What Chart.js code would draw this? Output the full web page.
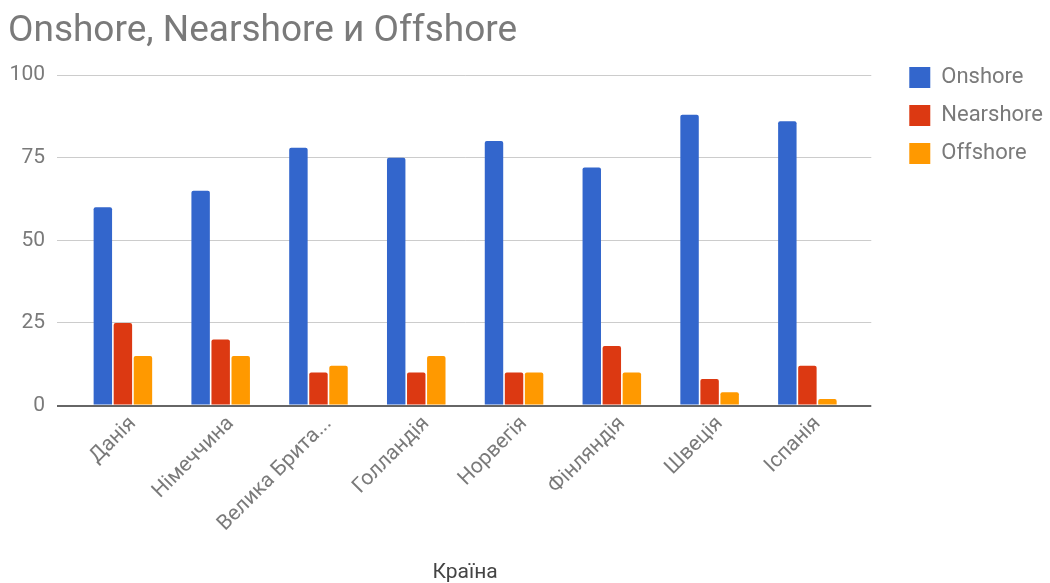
<!DOCTYPE html>
<html>
<head>
<meta charset="utf-8">
<script src="https://cdn.jsdelivr.net/npm/chart.js@4.4.0/dist/chart.umd.min.js"></script>
<style>
  html, body { margin: 0; padding: 0; background: #fff; }
  #wrap { width: 1050px; height: 583px; }
</style>
</head>
<body>
<div id="wrap"><canvas id="chart"></canvas></div>
<script>
const countries = ["Данія", "Німеччина", "Велика Британія", "Голландія", "Норвегія", "Фінляндія", "Швеція", "Іспанія"];
const onshore = [60, 65, 78, 75, 80, 72, 88, 86];
const nearshore = [25, 20, 10, 10, 10, 18, 8, 12];
const offshore = [15, 15, 12, 15, 10, 10, 4, 2];
const yTicks = [0, 25, 50, 75, 100];

const gray = "#7a7a7a";
const gridColor = ctx => (ctx.tick && ctx.tick.value === 0 ? "#666666" : "#cccccc");
const gridWidth = ctx => (ctx.tick && ctx.tick.value === 0 ? 2 : 1);

function shorten(name) {
  return name.length > 13 ? name.slice(0, 12) + "..." : name;
}

function bars(label, data, color) {
  return {
    label,
    data,
    backgroundColor: color,
    borderWidth: 0,
    borderRadius: { topLeft: 2, topRight: 2 },
    borderSkipped: "bottom",
    categoryPercentage: 0.615,
    barPercentage: 0.92
  };
}

Chart.defaults.font.family = "Roboto";

new Chart(document.getElementById("chart"), {
  type: "bar",
  data: {
    labels: countries,
    datasets: [
      bars("Onshore", onshore, "#3366cc"),
      bars("Nearshore", nearshore, "#dc3912"),
      bars("Offshore", offshore, "#ff9900")
    ]
  },
  options: {
    responsive: true,
    maintainAspectRatio: false,
    animation: false,
    layout: { padding: { left: 8, right: -3, top: 0, bottom: 0 } },
    plugins: {
      title: {
        display: true,
        text: "Onshore, Nearshore и Offshore",
        align: "start",
        color: gray,
        font: { size: 37, weight: "normal" },
        padding: { top: 10, bottom: 20.6 }
      },
      legend: {
        position: "right",
        align: "start",
        title: { display: true, text: "", font: { size: 12 }, padding: { top: 0, bottom: 36 } },
        labels: {
          boxWidth: 21,
          boxHeight: 21,
          padding: 16,
          color: gray,
          font: { size: 22 }
        }
      },
      tooltip: { enabled: false }
    },
    scales: {
      x: {
        grid: { display: false, drawTicks: false },
        border: { display: false },
        ticks: {
          autoSkip: false,
          maxRotation: 45,
          minRotation: 45,
          padding: 6,
          labelOffset: 10,
          color: gray,
          font: { size: 21 },
          callback: function (v) { return shorten(this.getLabelForValue(v)); }
        },
        title: {
          display: true,
          text: "Країна",
          color: "#444444",
          font: { size: 21, lineHeight: 1 },
          padding: { top: 0, bottom: 0 }
        },
        afterFit: s => { s.height = 177.5; }
      },
      y: {
        min: 0,
        max: 100,
        afterBuildTicks: s => { s.ticks = yTicks.map(v => ({ value: v })); },
        grid: { color: gridColor, lineWidth: gridWidth, tickLength: 17 },
        border: { display: false },
        ticks: { padding: 12, color: gray, font: { size: 21 } },
        afterFit: s => { s.width = 66; }
      },
      y2: {
        position: "right",
        min: 0,
        max: 100,
        afterBuildTicks: s => { s.ticks = yTicks.map(v => ({ value: v })); },
        grid: { color: gridColor, lineWidth: gridWidth, tickLength: 15, drawOnChartArea: false },
        border: { display: false },
        ticks: { display: false },
        afterFit: s => { s.width = 37; }
      }
    }
  }
});
</script>
</body>
</html>
